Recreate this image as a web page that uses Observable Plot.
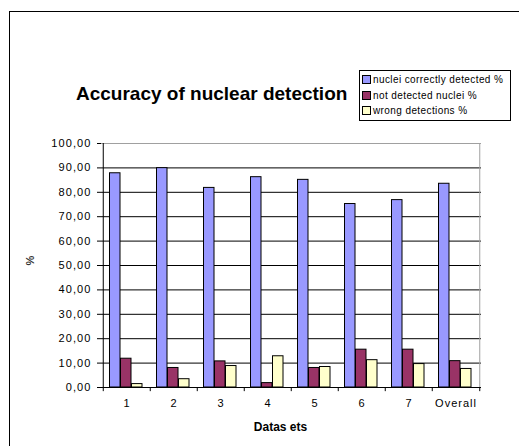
<!DOCTYPE html>
<html>
<head>
<meta charset="utf-8">
<script src="https://cdn.jsdelivr.net/npm/d3@7"></script>
<script src="https://cdn.jsdelivr.net/npm/@observablehq/plot@0.6"></script>
<style>
  html, body { margin: 0; padding: 0; background: #fff; }
  #wrap { position: relative; width: 519px; height: 446px; overflow: hidden; font-family: "Liberation Sans", Arial, sans-serif; }
  #frame { position: absolute; left: 9px; top: 11px; width: 700px; height: 700px; border: 1px solid #000; box-sizing: border-box; }
  #title { position: absolute; left: 76px; top: 83px; font-size: 19px; font-weight: bold; white-space: nowrap; color: #000; }
  #legend { position: absolute; left: 359px; top: 70px; width: 152px; height: 51px; border: 1px solid #000; box-sizing: border-box; background: #fff; font-size: 10px; letter-spacing: 0.4px; }
  #legend .row { position: absolute; left: 2px; height: 12px; line-height: 12px; white-space: nowrap; }
  #legend .sw { display: inline-block; width: 7px; height: 7px; border: 1px solid #000; margin-right: 2px; vertical-align: -1px; }
  #chart { position: absolute; left: 0; top: 0; }
</style>
</head>
<body>
<div id="wrap">
  <div id="frame"></div>
  <div id="chart"></div>
  <div id="title">Accuracy of nuclear detection</div>
  <div id="legend"></div>
</div>
<script>
const categories = ["1", "2", "3", "4", "5", "6", "7", "Overall"];
const seriesNames = ["nuclei correctly detected %", "not detected nuclei %", "wrong detections %"];
const correctlyDetected = [87.8, 89.9, 81.8, 86.2, 85.1, 75.2, 76.8, 83.5];
const notDetected = [11.8, 8.0, 10.7, 1.8, 8.0, 15.5, 15.5, 10.8];
const wrongDetections = [1.4, 3.4, 8.8, 12.8, 8.4, 11.2, 9.6, 7.6];
const yTicks = [0, 10, 20, 30, 40, 50, 60, 70, 80, 90, 100];
const seriesColors = ["#9999FF", "#993366", "#FFFFCC"];

const W = 519, H = 446;
const mL = 101, mR = 38, mT = 143, mB = 59;
const bw = (W - mL - mR) / categories.length;
const barW = 11, start = 6.5;

const seriesValues = [correctlyDetected, notDetected, wrongDetections];
const fmt = d => d3.format(".2f")(d).replace(".", ",");

const barMarks = seriesValues.map((vals, i) =>
  Plot.barY(categories.map((c, j) => ({cat: c, v: vals[j]})), {
    x: "cat", y: "v",
    fill: seriesColors[i], stroke: "#000", strokeWidth: 1,
    insetLeft: start + i * barW,
    insetRight: bw - start - (i + 1) * barW
  })
);

const chart = Plot.plot({
  width: W, height: H,
  marginLeft: mL, marginRight: mR, marginTop: mT, marginBottom: mB,
  style: {background: "transparent", fontFamily: "Liberation Sans, Arial, sans-serif", fontSize: "11px", color: "#000", overflow: "visible"},
  x: {domain: categories, padding: 0, label: null},
  y: {domain: [0, 100], label: null},
  marks: [
    Plot.gridY(yTicks.filter(d => d > 0 && d < 100), {stroke: "#000", strokeOpacity: 1}),
    Plot.ruleY([100], {stroke: "#a0a0a0"}),
    Plot.ruleX([categories[categories.length - 1]], {y1: 0, y2: 100, dx: bw / 2, stroke: "#a0a0a0"}),
    ...barMarks,
    Plot.ruleY([0], {stroke: "#000"}),
    Plot.ruleX([categories[0]], {y1: 0, y2: 100, dx: -bw / 2, stroke: "#000"}),
    Plot.ruleX(categories, {y1: 0, y2: -1.7, dx: -bw / 2, stroke: "#000"}),
    Plot.ruleX([categories[categories.length - 1]], {y1: 0, y2: -1.7, dx: bw / 2, stroke: "#000"}),
    Plot.axisY({ticks: yTicks, tickFormat: fmt, tickSize: 4, tickPadding: 6, label: null}),
    Plot.axisX({tickSize: 0, tickPadding: 12, label: null}),
    Plot.text(["%"], {frameAnchor: "left", dx: -71, rotate: -90, fontWeight: "bold", fontSize: 11, fill: "#333"}),
    Plot.text(["Datas ets"], {frameAnchor: "bottom", dy: 43, dx: -11, fontWeight: "bold", fontSize: 12})
  ]
});
d3.select(chart).selectAll('g[aria-label="y-axis tick label"] text').style("letter-spacing", "1.1px");
d3.select(chart).selectAll('g[aria-label="x-axis tick label"] text').style("letter-spacing", "1px");
document.getElementById("chart").appendChild(chart);

const legend = document.getElementById("legend");
seriesNames.forEach((name, i) => {
  const row = document.createElement("div");
  row.className = "row";
  row.style.top = (3 + i * 15.5) + "px";
  const sw = document.createElement("span");
  sw.className = "sw";
  sw.style.background = seriesColors[i];
  row.appendChild(sw);
  row.appendChild(document.createTextNode(name));
  legend.appendChild(row);
});
</script>
</body>
</html>
